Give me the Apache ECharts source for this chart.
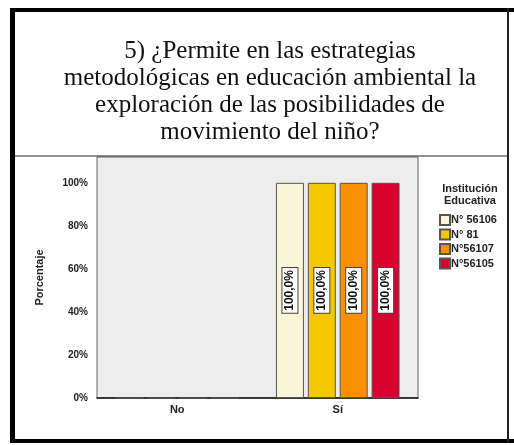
<!DOCTYPE html>
<html>
<head>
<meta charset="utf-8">
<script src="https://cdn.jsdelivr.net/npm/echarts@6/dist/echarts.min.js"></script>
<style>
  html, body { margin: 0; padding: 0; background: #fff; }
  #chart { width: 514px; height: 445px; }
</style>
</head>
<body>
<div id="chart"></div>
<script>
  // datos
  var categorias = ['No', 'Sí'];
  var instituciones = ['N° 56106', 'N° 81', 'N°56107', 'N°56105'];
  var colores = ['#fcf6d8', '#f6c800', '#fb9000', '#d8002c'];
  var valN56106 = [0, 100];
  var valN81 = [0, 100];
  var valN56107 = [0, 100];
  var valN56105 = [0, 100];
  var valores = [valN56106, valN81, valN56107, valN56105];
  var ticksY = [0, 20, 40, 60, 80, 100];

  var chart = echarts.init(document.getElementById('chart'));

  var series = instituciones.map(function (nombre, i) {
    return {
      name: nombre,
      type: 'bar',
      // sin etiqueta para las barras de 0%
      data: valores[i].map(function (v) {
        return v ? v : { value: v, label: { show: false } };
      }),
      barGap: '14%',
      barCategoryGap: '23%',
      itemStyle: { color: colores[i], borderColor: '#555', borderWidth: 1 },
      label: {
        show: true,
        position: 'inside',
        rotate: 90,
        formatter: function (p) {
          return p.value.toFixed(1).replace('.', ',') + '%';
        },
        backgroundColor: '#fff',
        borderColor: '#444',
        borderWidth: 1,
        padding: [2, 2, 1, 2],
        color: '#111',
        fontWeight: 'bold',
        fontSize: 12,
        fontFamily: 'Liberation Sans'
      }
    };
  });

  var option = {
    backgroundColor: '#fff',
    animation: false,
    title: [
      {
        text: '5) ¿Permite en las estrategias\nmetodológicas en educación ambiental la\nexploración de las posibilidades de\nmovimiento del niño?',
        left: 265,
        top: 33,
        textAlign: 'center',
        textStyle: {
          fontFamily: 'Liberation Serif',
          fontWeight: 'normal',
          fontSize: 25,
          lineHeight: 27,
          color: '#111'
        }
      },
      {
        text: 'Institución\nEducativa',
        left: 465,
        top: 178,
        textAlign: 'center',
        textStyle: {
          fontFamily: 'Liberation Sans',
          fontWeight: 'bold',
          fontSize: 11,
          lineHeight: 12,
          color: '#222'
        }
      }
    ],
    legend: {
      data: instituciones,
      orient: 'vertical',
      left: 434,
      top: 209,
      itemWidth: 10,
      itemHeight: 10,
      itemGap: 2.5,
      icon: 'rect',
      textStyle: {
        fontFamily: 'Liberation Sans',
        fontWeight: 'bold',
        fontSize: 11,
        color: '#222',
        padding: [0, 0, 0, -4]
      }
    },
    grid: {
      left: 97,
      right: 96,
      top: 157,
      bottom: 47,
      show: true,
      backgroundColor: '#ededed',
      borderColor: '#666',
      borderWidth: 1
    },
    xAxis: {
      type: 'category',
      data: categorias,
      axisLine: { lineStyle: { color: '#111', width: 1.5 } },
      axisTick: { show: false },
      axisLabel: {
        fontFamily: 'Liberation Sans',
        fontWeight: 'bold',
        fontSize: 11,
        color: '#222',
        margin: 6
      }
    },
    yAxis: {
      type: 'value',
      min: 0,
      max: 112,
      interval: 20,
      name: 'Porcentaje',
      nameLocation: 'middle',
      nameGap: 52,
      nameTextStyle: {
        fontFamily: 'Liberation Sans',
        fontWeight: 'bold',
        fontSize: 11,
        color: '#222'
      },
      splitLine: { show: false },
      axisLine: { show: false },
      axisTick: { show: false },
      axisLabel: {
        showMaxLabel: false,
        margin: 9,
        fontFamily: 'Liberation Sans',
        fontWeight: 'bold',
        fontSize: 10,
        color: '#222',
        formatter: function (v) {
          return ticksY.indexOf(v) >= 0 ? v + '%' : '';
        }
      }
    },
    graphic: [
      // marco exterior
      { type: 'rect', shape: { x: 10, y: 8, width: 5, height: 435 }, style: { fill: '#000' } },
      { type: 'rect', shape: { x: 10, y: 8, width: 504, height: 4 }, style: { fill: '#000' } },
      { type: 'rect', shape: { x: 10, y: 439, width: 504, height: 4 }, style: { fill: '#000' } },
      { type: 'rect', shape: { x: 507, y: 8, width: 2, height: 435 }, style: { fill: '#222' } },
      { type: 'line', shape: { x1: 15, y1: 156, x2: 507, y2: 156 }, style: { stroke: '#222', lineWidth: 1 } }
    ],
    series: series
  };

  chart.setOption(option);
</script>
</body>
</html>
